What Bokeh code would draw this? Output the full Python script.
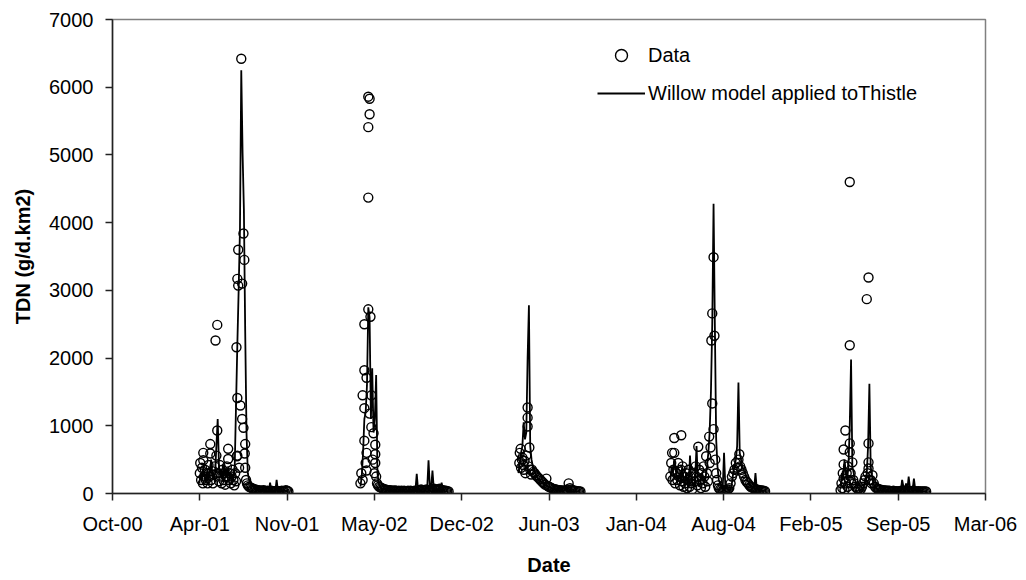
import numpy as np
import pandas as pd
from bokeh.plotting import figure
from bokeh.models import FixedTicker, Legend, LegendItem, Range1d
from bokeh.embed import file_html
from bokeh.resources import INLINE

# ---- axis ticks (Excel-style date axis, major unit 200 days) ----
x_start = "2000-10-01"
tick_labels = ["Oct-00", "Apr-01", "Nov-01", "May-02", "Dec-02", "Jun-03",
               "Jan-04", "Aug-04", "Feb-05", "Sep-05", "Mar-06"]
y_ticks = [0, 1000, 2000, 3000, 4000, 5000, 6000, 7000]

# ---- season start dates ----
season_starts = ["2001-04-18", "2002-04-22", "2003-04-19", "2004-04-01", "2005-04-26"]
model_step = 3  # days between model values

# ---- Willow model applied to Thistle (g/d.km2), every 3 days from season start ----
s1_model = [150, 300, 200, 400, 250, 150, 350, 200, 300, 500, 250, 200, 300, 700, 1100, 400,
            250, 350, 200, 450, 300, 250, 400, 200, 300, 150, 250, 400, 1300, 2200, 3000, 3900,
            6250, 5030, 4200, 2400, 900, 300, 200, 150, 120, 100, 90, 80, 70, 60, 60, 50, 50,
            45, 40, 40, 35, 35, 160, 40, 35, 30, 30, 200, 40, 35, 30, 30, 40, 50, 35, 30, 30]
s2_model = [100, 250, 600, 1100, 1200, 1600, 2750, 2600, 1100, 1850, 900, 1100, 1750, 300, 150,
            100, 80, 70, 60, 60, 50, 50, 45, 40, 40, 35, 40, 35, 30, 35, 30, 30, 40, 35, 30, 30,
            35, 40, 30, 35, 40, 45, 50, 290, 60, 50, 40, 60, 80, 60, 100, 80, 490, 100, 80, 340,
            80, 60, 50, 40, 40, 60, 160, 50, 40, 30, 30, 30]
s3_model = [300, 450, 600, 700, 1050, 800, 900, 2000, 2780, 700, 500, 400, 350, 300, 250, 220,
            200, 180, 160, 150, 130, 120, 110, 100, 90, 80, 70, 60, 55, 50, 50, 45, 45, 40, 40,
            40, 100, 40, 35, 35, 30, 30, 35, 30, 30, 30, 30, 30]
s4_model = [200, 400, 300, 500, 350, 250, 200, 300, 150, 400, 200, 150, 300, 200, 100, 560, 200,
            150, 100, 250, 700, 200, 100, 150, 300, 200, 150, 250, 400, 600, 900, 1500, 2500,
            4280, 2470, 800, 400, 200, 150, 100, 80, 600, 100, 80, 60, 50, 50, 150, 300, 400,
            500, 700, 1640, 600, 500, 400, 350, 300, 250, 200, 150, 120, 100, 90, 80, 300, 70,
            60, 50, 50, 40, 40, 30]
s5_model = [100, 300, 200, 500, 300, 200, 400, 1000, 1980, 400, 300, 200, 150, 100, 80, 60, 50,
            80, 120, 200, 300, 700, 1620, 400, 250, 150, 100, 80, 60, 50, 45, 40, 40, 35, 35, 40,
            35, 30, 30, 35, 30, 30, 40, 35, 30, 30, 40, 200, 100, 60, 150, 60, 250, 80, 100, 60,
            220, 60, 50, 40, 40, 35, 35, 30, 30, 30]

# ---- measured data: (days after season start, TDN g/d.km2) ----
s1_data = [(1, 300), (2, 450), (4, 200), (6, 380), (8, 150), (9, 490), (9, 600), (11, 250),
           (13, 350), (15, 200), (17, 300), (19, 150), (21, 420), (23, 250), (25, 590), (25, 730),
           (27, 200), (29, 330), (31, 150), (33, 280), (35, 400), (37, 2260), (39, 560),
           (41, 2490), (41, 930), (43, 300), (45, 180), (47, 420), (49, 250), (51, 150), (53, 350),
           (55, 200), (57, 300), (59, 130), (61, 250), (63, 400), (66, 510), (66, 660), (68, 200),
           (70, 300), (72, 150), (74, 250), (76, 350), (78, 200), (80, 120), (82, 300), (84, 180),
           (85, 2160), (86, 550), (87, 3170), (87, 1410), (87, 560), (89, 3600), (89, 3070),
           (91, 380), (94, 1300), (96, 6420), (98, 3100), (98, 1100), (101, 3840), (101, 970),
           (103, 3450), (104, 590), (105, 380), (105, 730), (107, 200), (109, 150), (111, 120),
           (114, 100), (117, 90), (120, 80), (123, 70), (126, 60), (129, 60), (132, 50), (135, 50),
           (138, 45), (141, 40), (144, 40), (147, 50), (150, 40), (153, 35), (156, 40), (159, 30),
           (162, 35), (165, 40), (168, 30), (171, 35), (174, 30), (177, 40), (180, 30), (183, 35),
           (186, 30), (189, 40), (192, 35), (195, 30), (198, 50), (201, 40), (204, 30)]
s2_data = [(0, 150), (2, 300), (5, 200), (5, 1450), (9, 2500), (9, 1820), (9, 1260), (9, 780),
           (12, 450), (14, 1710), (14, 600), (14, 340), (18, 4370), (18, 2720), (18, 5860),
           (18, 5410), (21, 5830), (21, 5600), (21, 1180), (23, 2610), (25, 1450), (25, 980),
           (28, 500), (30, 890), (32, 300), (34, 720), (34, 580), (34, 450), (36, 250), (38, 150),
           (40, 120), (43, 100), (46, 90), (49, 80), (52, 70), (55, 60), (58, 60), (61, 50),
           (64, 50), (67, 50), (70, 45), (73, 40), (76, 40), (79, 45), (82, 40), (85, 35), (88, 40),
           (91, 35), (94, 40), (97, 35), (100, 40), (103, 35), (106, 30), (109, 40), (112, 35),
           (115, 40), (118, 30), (121, 35), (124, 40), (127, 35), (130, 40), (133, 45), (136, 50),
           (139, 60), (142, 50), (145, 45), (148, 50), (151, 60), (154, 50), (157, 45), (160, 40),
           (163, 50), (166, 60), (169, 70), (172, 60), (175, 50), (178, 60), (181, 70), (184, 60),
           (187, 50), (190, 45), (193, 40), (196, 40), (199, 35), (202, 30)]
s3_data = [(2, 450), (3, 600), (5, 660), (6, 380), (8, 500), (9, 530), (11, 420), (12, 350),
           (14, 480), (16, 300), (18, 560), (21, 1270), (21, 1120), (21, 990), (23, 400), (25, 680),
           (27, 350), (29, 280), (31, 350), (34, 320), (37, 300), (40, 270), (43, 250), (46, 230),
           (49, 210), (52, 190), (55, 170), (58, 150), (61, 130), (64, 220), (67, 110), (70, 100),
           (73, 90), (76, 80), (79, 70), (82, 65), (85, 60), (88, 55), (91, 50), (94, 50), (97, 45),
           (100, 45), (103, 40), (106, 40), (109, 50), (112, 60), (115, 150), (118, 80), (121, 60),
           (124, 50), (127, 40), (130, 40), (133, 35), (136, 35), (139, 30), (142, 30)]
s4_data = [(0, 250), (2, 450), (4, 600), (5, 200), (7, 350), (9, 820), (9, 600), (11, 150),
           (13, 300), (16, 200), (18, 450), (20, 250), (22, 120), (24, 350), (25, 860), (26, 180),
           (28, 400), (30, 100), (32, 250), (34, 150), (36, 300), (38, 80), (40, 200), (42, 350),
           (44, 100), (46, 250), (48, 150), (50, 60), (53, 300), (55, 180), (58, 400), (60, 250),
           (62, 120), (64, 690), (66, 350), (68, 200), (70, 80), (72, 300), (74, 150), (76, 400),
           (78, 250), (80, 100), (82, 550), (84, 300), (86, 180), (89, 840), (90, 450), (92, 680),
           (94, 2260), (96, 2660), (96, 1330), (99, 3490), (99, 950), (101, 2330), (103, 500),
           (105, 300), (107, 200), (109, 120), (111, 80), (114, 60), (117, 50), (120, 40), (123, 50),
           (126, 40), (129, 50), (132, 60), (135, 80), (138, 150), (141, 250), (144, 300), (147, 350),
           (150, 450), (153, 380), (156, 500), (158, 580), (160, 400), (163, 350), (166, 300),
           (169, 250), (172, 200), (175, 170), (178, 150), (181, 120), (184, 100), (187, 90),
           (190, 80), (193, 70), (196, 60), (199, 60), (202, 50), (205, 50), (208, 45), (211, 40),
           (214, 40), (217, 35)]
s5_data = [(0, 50), (2, 150), (4, 80), (5, 300), (7, 650), (7, 430), (7, 220), (9, 50), (11, 930),
           (12, 150), (14, 300), (16, 100), (17, 400), (19, 200), (21, 4600), (21, 2190), (21, 740),
           (21, 610), (23, 300), (25, 150), (27, 460), (29, 200), (31, 150), (34, 100), (37, 80),
           (40, 60), (43, 80), (46, 60), (49, 100), (52, 150), (55, 200), (57, 250), (60, 2870),
           (62, 300), (64, 3190), (64, 740), (64, 460), (64, 370), (66, 200), (69, 200), (71, 150),
           (73, 270), (76, 150), (79, 100), (82, 80), (85, 70), (88, 60), (91, 60), (94, 50), (97, 50),
           (100, 45), (103, 45), (106, 40), (109, 40), (112, 40), (115, 35), (118, 35), (121, 40),
           (124, 35), (127, 35), (130, 30), (133, 30), (136, 35), (139, 40), (142, 40), (145, 35),
           (148, 40), (151, 45), (154, 40), (157, 35), (160, 30), (163, 35), (166, 40), (169, 35),
           (172, 30), (175, 30), (178, 35), (181, 30), (184, 30), (187, 30), (190, 30), (193, 30),
           (196, 30)]

# ---- build arrays (Excel serial day numbers) ----
EPOCH = pd.Timestamp("1899-12-30")


def serial(d):
    return (pd.Timestamp(d) - EPOCH).days


models = [s1_model, s2_model, s3_model, s4_model, s5_model]
datas = [s1_data, s2_data, s3_data, s4_data, s5_data]

mx, my, dx, dy = [], [], [], []
for start, mod, dat in zip(season_starts, models, datas):
    s0 = serial(start)
    mx.extend(list(s0 + model_step * np.arange(len(mod))))
    my.extend(mod)
    mx.append(np.nan)
    my.append(np.nan)
    for off, v in dat:
        dx.append(s0 + off)
        dy.append(v)

x0 = serial(x_start)
tick_pos = [x0 + 200 * i for i in range(len(tick_labels))]

FONT = "Liberation Sans"

p = figure(width=1026, height=580, output_backend="svg", toolbar_location=None,
           x_range=Range1d(tick_pos[0], tick_pos[-1]), y_range=Range1d(0, 7000),
           min_border_left=112, min_border_right=41, min_border_top=19, min_border_bottom=87)

p.xgrid.visible = False
p.ygrid.visible = False
p.outline_line_color = "#808080"
p.outline_line_width = 1.5
p.background_fill_color = "white"
p.border_fill_color = "white"

sc = p.scatter(dx, dy, marker="circle", size=9, line_color="black", line_width=1.4,
               fill_color=None)
ln = p.line(mx, my, line_color="black", line_width=1.8)

for ax in (p.xaxis[0], p.yaxis[0]):
    ax.axis_line_color = "#222222"
    ax.axis_line_width = 1.5
    ax.major_tick_line_color = "#222222"
    ax.major_tick_line_width = 1.5
    ax.major_tick_in = 0
    ax.major_tick_out = 7
    ax.minor_tick_line_color = None
    ax.major_label_text_font = FONT
    ax.major_label_text_font_size = "20px"
    ax.major_label_text_color = "black"
    ax.major_label_standoff = 12
    ax.axis_label_text_font = FONT
    ax.axis_label_text_font_size = "20px"
    ax.axis_label_text_font_style = "bold"
    ax.axis_label_text_color = "black"

p.xaxis.ticker = FixedTicker(ticks=tick_pos)
p.xaxis.major_label_overrides = {t: lab for t, lab in zip(tick_pos, tick_labels)}
p.xaxis.axis_label = "Date"
p.xaxis.axis_label_standoff = 16
p.yaxis.ticker = FixedTicker(ticks=y_ticks)
p.yaxis.axis_label = "TDN (g/d.km2)"
p.yaxis.axis_label_standoff = 12

legend = Legend(items=[LegendItem(label="Data", renderers=[sc]),
                       LegendItem(label="Willow model applied toThistle", renderers=[ln])],
                location=(485, 385), orientation="vertical")
legend.label_text_font = FONT
legend.label_text_font_size = "20px"
legend.label_text_color = "black"
legend.glyph_width = 48
legend.glyph_height = 30
legend.label_height = 30
legend.spacing = 8
legend.padding = 0
legend.margin = 0
legend.label_standoff = 3
legend.border_line_color = None
legend.background_fill_alpha = 0
p.add_layout(legend)

open("out.html", "w").write(file_html(p, INLINE))
